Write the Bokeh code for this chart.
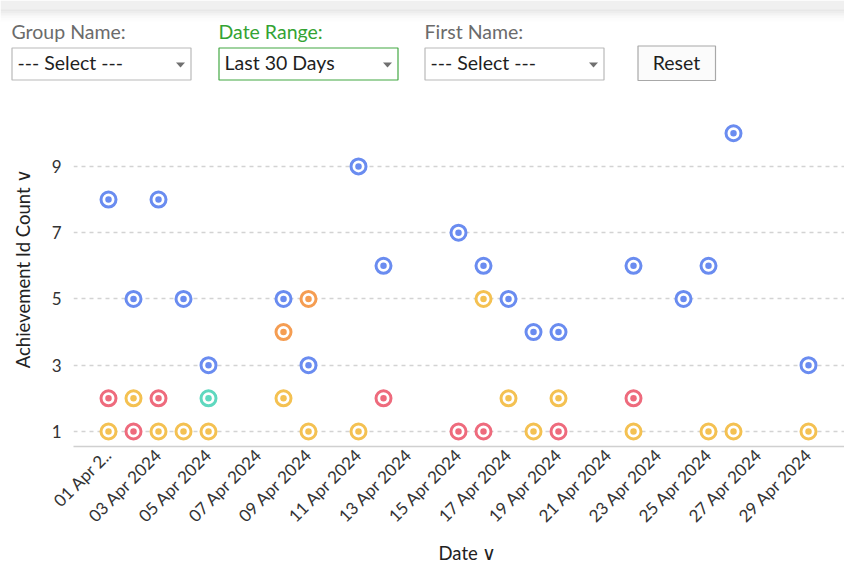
import math
from bokeh.plotting import figure
from bokeh.models import Range1d, FixedTicker, Title
from bokeh.layouts import column
from bokeh.embed import file_html
from bokeh.resources import INLINE
from bokeh.core.properties import value

# ---------------- data ----------------
tick_days = [1, 3, 5, 7, 9, 11, 13, 15, 17, 19, 21, 23, 25, 27, 29]
tick_labels = ["01 Apr 2..", "03 Apr 2024", "05 Apr 2024", "07 Apr 2024", "09 Apr 2024",
               "11 Apr 2024", "13 Apr 2024", "15 Apr 2024", "17 Apr 2024", "19 Apr 2024",
               "21 Apr 2024", "23 Apr 2024", "25 Apr 2024", "27 Apr 2024", "29 Apr 2024"]
y_ticks = [1, 3, 5, 7, 9]

blue_days = [1, 2, 3, 4, 5, 8, 9, 11, 12, 15, 16, 17, 18, 19, 22, 24, 25, 26, 29]
blue_counts = [8, 5, 8, 5, 3, 5, 3, 9, 6, 7, 6, 5, 4, 4, 6, 5, 6, 10, 3]
yellow_days = [1, 2, 3, 4, 5, 8, 9, 11, 16, 17, 18, 19, 22, 25, 26, 29]
yellow_counts = [1, 2, 1, 1, 1, 2, 1, 1, 5, 2, 1, 2, 1, 1, 1, 1]
red_days = [1, 2, 3, 12, 15, 16, 19, 22]
red_counts = [2, 1, 2, 2, 1, 1, 1, 2]
orange_days = [8, 9]
orange_counts = [4, 5]
teal_days = [5]
teal_counts = [2]

series = [
    (blue_days, blue_counts, "#6a8cf0"),
    (yellow_days, yellow_counts, "#f4c152"),
    (red_days, red_counts, "#ee6b7d"),
    (orange_days, orange_counts, "#f59d52"),
    (teal_days, teal_counts, "#5fd8bf"),
]

FONT = "Lato"
W = 844
H = 569
CHEVRON = "\u2228"

# ---------------- top controls ----------------
TOP_H = 82
top = figure(width=W, height=TOP_H, output_backend="svg", toolbar_location=None,
             x_range=Range1d(0, W), y_range=Range1d(TOP_H, 0),
             x_axis_location=None, y_axis_location=None, min_border=0,
             outline_line_color=None, tools="")
top.frame_align = False
top.grid.visible = False
top.background_fill_color = "white"

# header bar and its shadow
top.quad(left=[0], right=[W], top=[0], bottom=[9], fill_color="#f0f0f0", line_color=None)
for i, a in enumerate([0.4, 0.3, 0.22, 0.15, 0.1, 0.06, 0.03]):
    top.quad(left=[0], right=[W], top=[9 + i * 1.7], bottom=[9 + (i + 1) * 1.7],
             fill_color="#c4c4c4", fill_alpha=a, line_color=None)

titles = ["Group Name:", "Date Range:", "First Name:"]
title_colors = ["#6b6b6b", "#34a334", "#6b6b6b"]
box_lefts = [11, 218, 424]
box_texts = ["--- Select ---", "Last 30 Days", "--- Select ---"]
box_borders = ["#b9b9b9", "#43a843", "#b9b9b9"]
for t, tc, bl, bt, bb in zip(titles, title_colors, box_lefts, box_texts, box_borders):
    top.text(x=[bl], y=[30.5], text=[t], text_font=value(FONT), text_font_size="19.5px",
             text_color=tc, text_baseline="middle", text_align="left")
    top.quad(left=[bl + 0.5], right=[bl + 179.5], top=[47.5], bottom=[79.5],
             fill_color="white", line_color=bb, line_width=1.2)
    top.text(x=[bl + 6], y=[61.5], text=[bt], text_font=value(FONT), text_font_size="19.5px",
             text_color="#1f1f1f", text_baseline="middle", text_align="left")
    ax = bl + 169
    top.patch(x=[ax - 4.5, ax + 4.5, ax], y=[62, 62, 67], fill_color="#707070", line_color=None)

# reset button
top.quad(left=[637.5], right=[715], top=[45.5], bottom=[80], fill_color="#fbfbfb",
         line_color="#a8a8a8", line_width=1.2)
top.text(x=[676], y=[62], text=["Reset"], text_font=value(FONT), text_font_size="19.5px",
         text_color="#1f1f1f", text_baseline="middle", text_align="center")

# ---------------- main chart ----------------
MAIN_TOP = TOP_H
MAIN_H = H - MAIN_TOP
frame_top, frame_bottom = 90, 446
frame_left, frame_right = 73, W

px_per_day = 25.0
day1_x = 108
px_per_unit = 33.14
y_one = 431

x_start = 1 + (frame_left - day1_x) / px_per_day
x_end = 1 + (frame_right - day1_x) / px_per_day
y_start = 1 - (frame_bottom - y_one) / px_per_unit
y_end = 1 + (y_one - frame_top) / px_per_unit

p = figure(width=W, height=MAIN_H, output_backend="svg", toolbar_location=None, tools="",
           x_range=Range1d(x_start, x_end), y_range=Range1d(y_start, y_end),
           min_border_left=frame_left, min_border_right=0,
           min_border_top=frame_top - MAIN_TOP, min_border_bottom=H - frame_bottom,
           outline_line_color=None)
p.frame_align = False

p.xgrid.visible = False
p.ygrid.grid_line_color = "#d3d3d3"
p.ygrid.grid_line_dash = "4 4"
p.ygrid.grid_line_width = 1.3

p.yaxis.ticker = FixedTicker(ticks=y_ticks)
p.yaxis.axis_line_color = None
p.yaxis.major_tick_line_color = None
p.yaxis.minor_tick_line_color = None
p.yaxis.major_tick_out = 0
p.yaxis.major_label_standoff = 12
p.yaxis.major_label_text_font = FONT
p.yaxis.major_label_text_font_size = "17px"
p.yaxis.major_label_text_color = "#333333"
p.yaxis.axis_label = "Achievement Id Count " + CHEVRON
p.yaxis.axis_label_text_font = FONT
p.yaxis.axis_label_text_font_size = "18.5px"
p.yaxis.axis_label_text_font_style = "normal"
p.yaxis.axis_label_text_color = "#222222"
p.yaxis.axis_label_standoff = 15

p.xaxis.ticker = FixedTicker(ticks=tick_days)
p.xaxis.major_label_overrides = {d: l for d, l in zip(tick_days, tick_labels)}
p.xaxis.major_label_orientation = math.pi / 4
p.xaxis.axis_line_color = "#d0d0d0"
p.xaxis.axis_line_width = 1.5
p.xaxis.major_tick_line_color = None
p.xaxis.minor_tick_line_color = None
p.xaxis.major_tick_out = 0
p.xaxis.major_label_standoff = 5
p.xaxis.major_label_text_font = FONT
p.xaxis.major_label_text_font_size = "17px"
p.xaxis.major_label_text_color = "#333333"

# x-axis title with its chevron, placed under the tick labels
p.add_layout(Title(text="Date " + CHEVRON, align="left", offset=438 - frame_left,
                   vertical_align="bottom",
                   text_font=FONT, text_font_size="18.5px", text_font_style="normal",
                   text_color="#222222", standoff=6), "below")

for days, counts, col in series:
    p.scatter(x=days, y=counts, size=15, fill_color="white", line_color=col, line_width=3)
    p.scatter(x=days, y=counts, size=6.5, fill_color=col, line_color=None)

layout = column(top, p, spacing=0)
open("out.html", "w").write(file_html(layout, INLINE))
